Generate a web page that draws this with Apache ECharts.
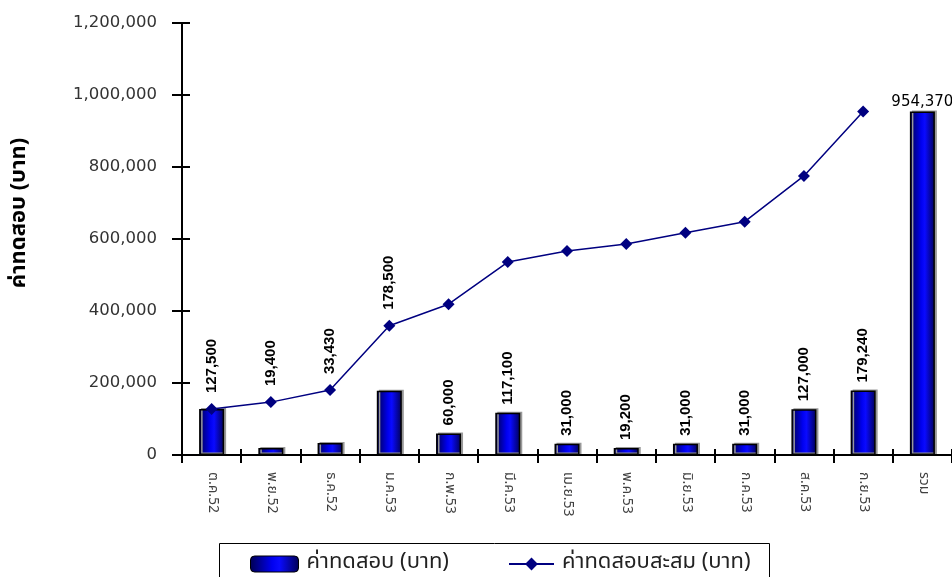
<!DOCTYPE html>
<html>
<head>
<meta charset="utf-8">
<script src="https://cdn.jsdelivr.net/npm/echarts@6/dist/echarts.min.js"></script>
<style>
  html, body { margin: 0; padding: 0; background: #fff; }
  #main { width: 952px; height: 577px; }
</style>
</head>
<body>
<div id="main"></div>
<script>
// เดือน / ค่าทดสอบรายเดือน / ค่าทดสอบสะสม
var months = ['ต.ค.52', 'พ.ย.52', 'ธ.ค.52', 'ม.ค.53', 'ก.พ.53', 'มี.ค.53', 'เม.ย.53', 'พ.ค.53', 'มิ.ย.53', 'ก.ค.53', 'ส.ค.53', 'ก.ย.53', 'รวม'];
var monthly = [127500, 19400, 33430, 178500, 60000, 117100, 31000, 19200, 31000, 31000, 127000, 179240, 954370];
var cumulative = [127500, 146900, 180330, 358830, 418830, 535930, 566930, 586130, 617130, 648130, 775130, 954370];
var yTicks = [0, 200000, 400000, 600000, 800000, 1000000, 1200000];

var barName = 'ค่าทดสอบ (บาท)';
var lineName = 'ค่าทดสอบสะสม (บาท)';
var thaiFont = 'Tahoma, "Noto Sans Thai", "DejaVu Sans", sans-serif';
var totalIdx = months.length - 1;
var labelOnLine = 4; // first few labels sit above the line point

function fmt(v) {
    return v.toLocaleString('en-US');
}

var barGrad = new echarts.graphic.LinearGradient(0, 0, 1, 0, [
    { offset: 0, color: '#000050' },
    { offset: 0.45, color: '#0000f0' },
    { offset: 0.6, color: '#0a0aff' },
    { offset: 1, color: '#000055' }
]);

var barData = monthly.map(function (v, i) {
    var item = { value: v };
    if (i === totalIdx) {
        item.label = {
            show: true, rotate: 0, align: 'center', verticalAlign: 'bottom',
            fontWeight: 'normal', fontFamily: '"DejaVu Sans", sans-serif', fontSize: 15, distance: 2
        };
    } else if (i < labelOnLine) {
        item.label = { show: false };
    }
    return item;
});

var lineData = cumulative.map(function (v, i) {
    var item = { value: v };
    if (i < labelOnLine) {
        item.label = {
            show: true,
            formatter: fmt(monthly[i])
        };
    }
    return item;
});

var legendText = { fontFamily: thaiFont, fontSize: 22, color: '#222', padding: [0, 0, 0, 3] };

var myChart = echarts.init(document.getElementById('main'));
myChart.setOption({
    animation: false,
    grid: { left: 182, top: 23, right: -2, bottom: 122 },
    legend: [{
        left: 250, top: 553, padding: 0,
        itemWidth: 48, itemHeight: 16,
        textStyle: legendText,
        data: [{ name: barName, itemStyle: { color: barGrad, borderColor: '#000', borderWidth: 1 } }]
    }, {
        left: 508, top: 553, padding: 0,
        itemWidth: 45, itemHeight: 16,
        textStyle: legendText,
        data: [lineName]
    }],
    graphic: [
        {
            type: 'rect', left: 217, top: 541, silent: true,
            shape: { width: 550, height: 60 },
            style: { fill: 'none', stroke: '#000', lineWidth: 1 }
        },
        {
            type: 'text', x: 10, y: 213, rotation: Math.PI / 2, silent: true,
            style: {
                text: 'ค่าทดสอบ (บาท)', fill: '#000',
                font: 'bold 22px ' + thaiFont,
                align: 'center', verticalAlign: 'top'
            }
        }
    ],
    xAxis: [{
        type: 'category',
        data: months,
        axisLine: { lineStyle: { color: '#000', width: 2 } },
        axisTick: { show: true, length: 8, lineStyle: { color: '#000', width: 2 } },
        axisLabel: { rotate: -90, margin: 17, fontSize: 14, color: '#404040', fontFamily: thaiFont }
    }, {
        type: 'category',
        data: months,
        position: 'bottom',
        axisLine: { show: false },
        axisTick: { show: true, inside: true, length: 6, lineStyle: { color: '#000', width: 2 } },
        axisLabel: { show: false }
    }],
    yAxis: [{
        type: 'value',
        min: yTicks[0], max: yTicks[yTicks.length - 1], interval: yTicks[1] - yTicks[0],
        splitLine: { show: false },
        axisLine: { show: true, lineStyle: { color: '#000', width: 2 } },
        axisTick: { show: true, length: 10, lineStyle: { color: '#000', width: 2 } },
        axisLabel: {
            margin: 25, fontSize: 16.5, color: '#333', fontFamily: '"DejaVu Sans", sans-serif',
            formatter: function (v) { return fmt(v); }
        }
    }, {
        type: 'value',
        position: 'left',
        min: yTicks[0], max: yTicks[yTicks.length - 1], interval: yTicks[1] - yTicks[0],
        splitLine: { show: false },
        axisLine: { show: false },
        axisTick: { show: true, inside: true, length: 8, lineStyle: { color: '#000', width: 2 } },
        axisLabel: { show: false }
    }],
    series: [{
        name: barName,
        type: 'bar',
        barWidth: 25,
        data: barData,
        itemStyle: {
            color: barGrad,
            borderColor: '#000',
            borderWidth: 1.5,
            shadowColor: '#999',
            shadowOffsetX: 2,
            shadowOffsetY: -1,
            shadowBlur: 0
        },
        label: {
            show: true,
            position: 'top',
            rotate: 90,
            align: 'left',
            verticalAlign: 'middle',
            distance: 8,
            color: '#000',
            fontWeight: 'bold',
            fontSize: 15,
            fontFamily: '"Liberation Sans", Arial, sans-serif',
            formatter: function (p) { return fmt(p.value); }
        }
    }, {
        name: lineName,
        type: 'line',
        data: lineData,
        symbol: 'diamond',
        symbolSize: 12,
        lineStyle: { color: '#000080', width: 1.5 },
        itemStyle: { color: '#000080' },
        z: 3,
        label: {
            show: false,
            position: 'top',
            rotate: 90,
            align: 'left',
            verticalAlign: 'middle',
            distance: 10,
            color: '#000',
            fontWeight: 'bold',
            fontSize: 15,
            fontFamily: '"Liberation Sans", Arial, sans-serif'
        }
    }]
});

window.addEventListener('resize', function () {
    myChart.resize();
});
</script>
</body>
</html>
